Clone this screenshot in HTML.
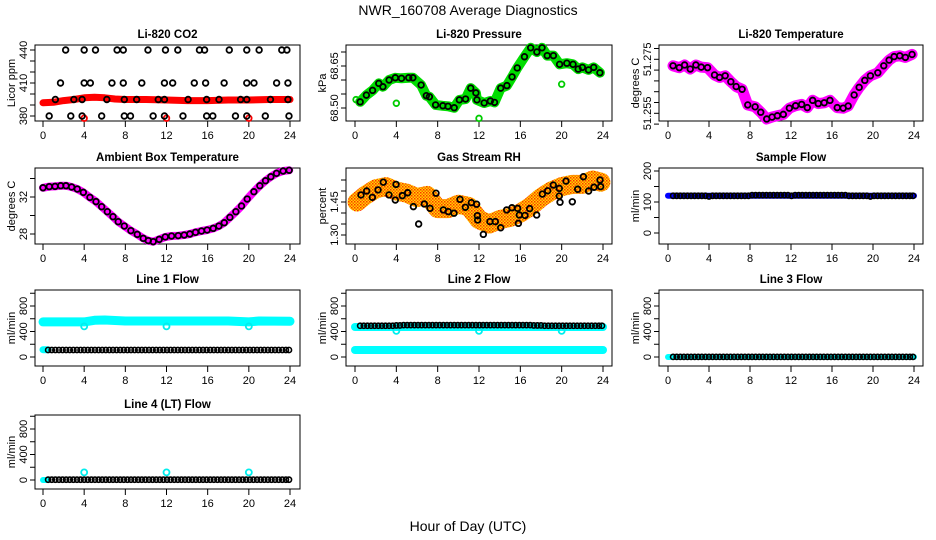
<!DOCTYPE html>
<html><head><meta charset="utf-8">
<style>
html,body{margin:0;padding:0;background:#fff;}
svg{display:block;font-family:"Liberation Sans",sans-serif;}
.tick{font-size:11px;fill:#000;}
.ttl{font-size:11.5px;font-weight:bold;fill:#000;}
</style></head>
<body>
<svg id="chart" width="936" height="540" viewBox="0 0 936 540">
<defs>
<pattern id="rhpat" width="3" height="3" patternUnits="userSpaceOnUse">
<rect width="3" height="3" fill="#ffd800"/>
<rect x="0" y="0" width="1.5" height="1.5" fill="#ff3000"/>
<rect x="1.5" y="1.5" width="1.5" height="1.5" fill="#ff6000"/>
</pattern>
</defs>
<text x="468" y="15" text-anchor="middle" font-size="14">NWR_160708  Average Diagnostics</text>
<text x="468" y="531" text-anchor="middle" font-size="14">Hour of Day (UTC)</text>
</svg>
<script>
// ---- CO2 ----
const co2Hours = [2.2,4.0,5.1,7.2,7.8,10.2,11.9,13.1,15.2,15.7,18.1,19.8,21.0,23.2,23.7,
 1.7,4.0,4.6,6.7,7.8,9.6,11.8,12.6,14.7,15.8,17.6,19.8,20.5,22.7,23.8,
 1.2,3.0,3.8,6.2,7.9,9.1,11.2,11.8,14.1,15.9,17.1,19.2,19.8,22.1,23.8,
 0.6,2.7,3.8,5.7,7.9,8.5,10.7,11.8,13.6,15.9,16.5,18.7,19.8,21.6,23.9];
const co2Vals = [440,440,440,440,440,440,440,440,440,440,440,440,440,440,440,
 410,410,410,410,410,410,410,410,410,410,410,410,410,410,410,
 395,395,395,395,395,395,395,395,395,395,395,395,395,395,395,
 380,380,380,380,380,380,380,380,380,380,380,380,380,380,380];
const co2BandHours = [0,1,2,3,4,5,6,7,8,10,12,14,16,18,20,22,24];
const co2BandVals = [392,392.5,394,395,396.5,397,396.5,395.5,395,395,394.5,394,394,394.5,394.5,395,395];
const co2OutHours = [4,12,20];
const co2OutVals = [378,378,378];
// ---- Pressure ----
const presHours = [0.5,1.1,1.7,2.3,2.7,3.3,3.9,4.5,5.2,5.6,6.4,6.9,7.2,7.8,8.5,9.0,9.6,10.1,10.7,11.2,11.7,11.8,12.5,13.1,13.5,14.1,14.7,15.2,15.7,16.4,17.0,17.6,18.1,18.6,19.2,19.8,20.5,21.1,21.6,22.0,22.6,23.1,23.7];
const presVals = [68.522,68.546,68.563,68.588,68.576,68.600,68.608,68.606,68.608,68.608,68.582,68.544,68.540,68.511,68.508,68.506,68.501,68.529,68.532,68.571,68.554,68.529,68.518,68.525,68.520,68.571,68.580,68.611,68.643,68.683,68.715,68.700,68.715,68.687,68.687,68.656,68.660,68.656,68.639,68.645,68.636,68.645,68.626];
const presOutHours = [0.1,4,12,20];
const presOutVals = [68.53,68.517,68.463,68.585];
// ---- Li-820 temperature ----
const ltHours = [0.49,1.1,1.62,2.17,2.72,3.24,3.86,4.54,5.03,5.58,6.13,6.65,7.23,7.78,8.5,9.05,9.63,10.15,10.67,11.25,11.84,12.45,13.04,13.59,14.11,14.66,15.24,15.8,16.51,17.09,17.58,18.16,18.65,19.2,19.75,20.47,21.05,21.57,22.06,22.61,23.16,23.81];
const ltVals = [51.2726,51.2719,51.2729,51.2714,51.2729,51.2721,51.2719,51.2692,51.2683,51.2689,51.2667,51.2649,51.2639,51.2581,51.2574,51.2554,51.2529,51.2536,51.2541,51.2546,51.2569,51.2578,51.2583,51.2571,51.2598,51.2586,51.2589,51.2598,51.2571,51.2569,51.2577,51.2618,51.2646,51.2672,51.2689,51.2700,51.2726,51.2747,51.2760,51.2763,51.2757,51.2768];
// ---- Ambient box temperature ----
const abHours = [0,0.61,1.17,1.72,2.23,2.78,3.33,3.92,4.56,5.15,5.7,6.25,6.8,7.31,7.9,8.54,9.16,9.74,10.23,10.71,11.29,11.88,12.49,13.14,13.72,14.27,14.82,15.4,15.95,16.54,17.09,17.61,18.16,18.74,19.29,19.84,20.49,21.07,21.62,22.14,22.69,23.33,23.92];
const abVals = [33.0,33.12,33.15,33.22,33.22,33.08,32.86,32.5,31.96,31.5,30.95,30.41,29.87,29.33,28.86,28.36,27.96,27.53,27.28,27.17,27.42,27.68,27.78,27.82,27.89,28.0,28.18,28.32,28.43,28.61,28.86,29.22,29.8,30.41,31.03,31.78,32.57,33.22,33.76,34.19,34.56,34.81,34.89];
// ---- Gas stream RH ----
const rhHours = [0.58,1.13,1.68,2.23,2.74,3.29,3.9,3.97,4.58,5.1,5.65,6.16,6.71,7.26,7.84,8.55,9.03,9.58,10.16,10.68,11.26,11.77,11.84,11.87,12.42,13.06,13.58,14.1,14.68,15.19,15.74,15.81,15.9,16.45,16.9,17.58,18.13,18.65,19.19,19.77,19.77,19.84,20.42,21.03,21.55,22.1,22.61,23.13,23.71,23.77];
const rhVals = [1.482,1.500,1.471,1.505,1.540,1.482,1.459,1.530,1.479,1.492,1.429,1.350,1.441,1.421,1.490,1.414,1.406,1.399,1.462,1.426,1.447,1.440,1.388,1.368,1.303,1.361,1.361,1.333,1.414,1.424,1.421,1.353,1.391,1.389,1.420,1.391,1.486,1.501,1.527,1.512,1.477,1.449,1.545,1.451,1.508,1.565,1.500,1.517,1.550,1.520];
const rhBandHours = [0.2,1,2,3,4,5,6,7,8,9,10,11,12,13,14,15,16,17,18,19,20,21,22,23,23.8];
const rhBandVals = [1.45,1.48,1.51,1.52,1.50,1.49,1.47,1.48,1.42,1.42,1.44,1.43,1.37,1.35,1.37,1.38,1.40,1.43,1.47,1.50,1.52,1.53,1.53,1.55,1.54];
// ---- Flows ----
const flowHours = [0.5,0.85,1.2,1.55,1.9,2.25,2.6,2.95,3.3,3.65,4,4.35,4.7,5.05,5.4,5.75,6.1,6.45,6.8,7.15,7.5,7.85,8.2,8.55,8.9,9.25,9.6,9.95,10.3,10.65,11,11.35,11.7,12.05,12.4,12.75,13.1,13.45,13.8,14.15,14.5,14.85,15.2,15.55,15.9,16.25,16.6,16.95,17.3,17.65,18,18.35,18.7,19.05,19.4,19.75,20.1,20.45,20.8,21.15,21.5,21.85,22.2,22.55,22.9,23.25,23.6,23.9];
const sampleFlowVals = [120,120,120,120,120,120,120,120,120,120,118,120,120,120,120,120,120,120,120,120,120,120,122,122,122,122,122,122,122,122,122,122,122,120,122,122,122,122,122,122,122,122,122,122,122,122,122,122,122,120,120,120,120,120,120,118,120,120,120,120,120,120,120,120,120,120,120,120];
const line1Vals = [110,110,110,110,110,110,110,110,110,110,110,110,110,110,110,110,110,110,110,110,110,110,110,110,110,110,110,110,110,110,110,110,110,110,110,110,110,110,110,110,110,110,110,110,110,110,110,110,110,110,110,110,110,110,110,110,110,110,110,110,110,110,110,110,110,110,110,110];
const line2Vals = [490,490,490,490,490,490,490,490,490,490,495,495,500,500,500,500,500,500,500,500,500,500,500,500,500,500,500,500,500,500,500,500,500,500,500,500,500,500,500,500,500,500,500,500,500,500,500,500,495,495,495,490,490,490,490,490,490,490,490,490,490,490,490,490,490,490,490,490];
const line3Vals = [2,2,2,2,2,2,2,2,2,2,2,2,2,2,2,2,2,2,2,2,2,2,2,2,2,2,2,2,2,2,2,2,2,2,2,2,2,2,2,2,2,2,2,2,2,2,2,2,2,2,2,2,2,2,2,2,2,2,2,2,2,2,2,2,2,2,2,2];
const line4Vals = [5,5,5,5,5,5,5,5,5,5,5,5,5,5,5,5,5,5,5,5,5,5,5,5,5,5,5,5,5,5,5,5,5,5,5,5,5,5,5,5,5,5,5,5,5,5,5,5,5,5,5,5,5,5,5,5,5,5,5,5,5,5,5,5,5,5,5,5];
const sampleBandHours = [0,24];
const sampleBandVals = [120,120];
const l1HiHours = [0,4,5,6,8,18,20,21,24];
const l1HiVals = [550,550,575,580,565,565,550,565,560];
const l1LoHours = [0,0.5];
const l1LoVals = [115,115];
const l2HiHours = [0,24];
const l2HiVals = [470,470];
const l2LoHours = [0,24];
const l2LoVals = [110,110];
const l3Hours = [0,24];
const l3Vals = [0,0];
const l4CyanHours = [0,0.5];
const l4CyanVals = [0,0];
const l1OutHours = [4,12,20];
const l1OutVals = [480,480,480];
const l2OutHours = [4,12,20];
const l2OutVals = [410,410,410];
const l4OutHours = [4,12,20];
const l4OutVals = [120,120,120];
const xTicks = [0,4,8,12,16,20,24];

const NS = "http://www.w3.org/2000/svg";
const svg = document.getElementById('chart');
function mk(tag, attrs, parent){
  const e = document.createElementNS(NS, tag);
  for (const k in attrs) e.setAttribute(k, attrs[k]);
  (parent||svg).appendChild(e);
  return e;
}
const cols = [{l:35,r:300,x0:43,x24:290},{l:346,r:612,x0:355,x24:603},{l:659,r:923,x0:668,x24:914}];
const rows = [{t:45,b:121},{t:168,b:244},{t:290,b:366},{t:415,b:489}];

function panel(name, title, col, row, ylab, yfun, yTicks, yLabels){
  const c = cols[col], r = rows[row];
  const g = mk('g', {});
  
  
  const xs = h => c.x0 + (c.x24 - c.x0) * h / 24;
  const box = mk('rect', {x:c.l, y:r.t, width:c.r-c.l, height:r.b-r.t, fill:'none', stroke:'#000', 'stroke-width':1}, g);
  
  
  const t = mk('text', {x:(c.l+c.r)/2, y:r.t-7, 'text-anchor':'middle', class:'ttl'}, g);
  t.textContent = title;
  
  
  const yl = mk('text', {transform:`translate(${c.l-20},${(r.t+r.b)/2}) rotate(-90)`, 'text-anchor':'middle', class:'tick'}, g);
  yl.textContent = ylab;
  
  
  const xa = mk('g', {}, g);
  
  
  xTicks.forEach(h => {
    mk('line', {x1:xs(h), x2:xs(h), y1:r.b, y2:r.b+6, stroke:'#000'}, xa);
    const tx = mk('text', {x:xs(h), y:r.b+18, 'text-anchor':'middle', class:'tick'}, xa);
    tx.textContent = h;
  });
  const ya = mk('g', {}, g);
  
  
  yTicks.forEach(v => {
    mk('line', {x1:c.l-5, x2:c.l, y1:yfun(v), y2:yfun(v), stroke:'#000'}, ya);
  });
  yLabels.forEach(([v, s]) => {
    const tx = mk('text', {transform:`translate(${c.l-8},${yfun(v)}) rotate(-90)`, 'text-anchor':'middle', class:'tick'}, ya);
    tx.textContent = s;
  });
  return {g, xs, y:yfun};
}
function band(p, hours, vals, color, w, nm){
  const pts = hours.map((h,i) => p.xs(h).toFixed(1) + ',' + p.y(vals[i]).toFixed(1)).join(' ');
  const pl = mk('polyline', {points:pts, fill:'none', stroke:color, 'stroke-width':w, 'stroke-linejoin':'round', 'stroke-linecap':'round'}, p.g);
  
  
}
function pts(p, hours, vals, color, r, sw, nm){
  const gg = mk('g', {}, p.g);
  
  
  hours.forEach((h,i) => {
    const ci = mk('circle', {cx:p.xs(h), cy:p.y(vals[i]), r:r, fill:'none', stroke:color, 'stroke-width':sw}, gg);
    
    
  });
}

// CO2
let p = panel('co2', 'Li-820 CO2', 0, 0, 'Licor ppm', v => 116 - (v-380)*1.1, [380,390,400,410,420,430,440], [[380,'380'],[410,'410'],[440,'440']]);
band(p, co2BandHours, co2BandVals, '#ff0000', 7, 'co2-red-band');
pts(p, co2OutHours, co2OutVals, '#ff0000', 2.8, 1.8, 'co2-red-outliers');
pts(p, co2Hours, co2Vals, '#000', 2.8, 1.8, 'co2-hourly-points');
// Pressure
p = panel('pressure', 'Li-820 Pressure', 1, 0, 'kPa', v => 108 - (v-68.50)*280, [68.50,68.55,68.60,68.65,68.70], [[68.50,'68.50'],[68.65,'68.65']]);
band(p, presHours, presVals, '#00dd00', 10, 'pressure-green-band');
pts(p, presOutHours, presOutVals, '#00cc00', 2.8, 1.8, 'pressure-green-outliers');
pts(p, presHours, presVals, '#000', 2.8, 1.8, 'pressure-hourly-points');
// Li-820 temp
p = panel('li820-temp', 'Li-820 Temperature', 2, 0, 'degrees C', v => 113.3 - (v-51.255)*2700, [51.251,51.255,51.259,51.263,51.267,51.271,51.275,51.279], [[51.255,'51.255'],[51.275,'51.275']]);
band(p, ltHours, ltVals, '#ff00ff', 11, 'li820-temp-magenta-band');
pts(p, ltHours, ltVals, '#000', 2.8, 1.8, 'li820-temp-hourly-points');
// Ambient
p = panel('ambient', 'Ambient Box Temperature', 0, 1, 'degrees C', v => 234 - (v-28)*9.25, [28,30,32,34], [[28,'28'],[32,'32']]);
band(p, abHours, abVals, '#ff00ff', 8, 'ambient-magenta-band');
pts(p, abHours, abVals, '#000', 2.8, 1.8, 'ambient-hourly-points');
// Gas RH
p = panel('gas-rh', 'Gas Stream RH', 1, 1, 'percent', v => 202 - (v-1.45)*220, [1.30,1.35,1.40,1.45,1.50,1.55], [[1.30,'1.30'],[1.45,'1.45']]);
band(p, rhBandHours, rhBandVals, 'url(#rhpat)', 19, 'gas-rh-orange-cloud');
pts(p, rhHours, rhVals, '#000', 2.8, 1.8, 'gas-rh-hourly-points');
// Sample flow
p = panel('sample-flow', 'Sample Flow', 2, 1, 'ml/min', v => 233 - v*0.31, [0,50,100,150,200], [[0,'0'],[100,'100'],[200,'200']]);
band(p, sampleBandHours, sampleBandVals, '#0000ff', 6, 'sample-flow-blue-band');
pts(p, flowHours, sampleFlowVals, '#000', 2.6, 1.6, 'sample-flow-hourly-points');
const flowTicks = [0,200,400,600,800,1000];
const flowLabels = [[0,'0'],[400,'400'],[800,'800']];
// Line 1
p = panel('line1-flow', 'Line 1 Flow', 0, 2, 'ml/min', v => 357 - v*0.06375, flowTicks, flowLabels);
band(p, l1HiHours, l1HiVals, '#00ffff', 9, 'line1-cyan-band');
band(p, l1LoHours, l1LoVals, '#00ffff', 7, 'line1-cyan-low');
pts(p, l1OutHours, l1OutVals, '#00eeee', 3, 1.8, 'line1-cyan-outliers');
pts(p, flowHours, line1Vals, '#000', 2.6, 1.6, 'line1-hourly-points');
// Line 2
p = panel('line2-flow', 'Line 2 Flow', 1, 2, 'ml/min', v => 357 - v*0.06375, flowTicks, flowLabels);
band(p, l2HiHours, l2HiVals, '#00ffff', 8, 'line2-cyan-band');
band(p, l2LoHours, l2LoVals, '#00ffff', 8, 'line2-cyan-low-band');
pts(p, l2OutHours, l2OutVals, '#00eeee', 3, 1.8, 'line2-cyan-outliers');
pts(p, flowHours, line2Vals, '#000', 2.6, 1.6, 'line2-hourly-points');
// Line 3
p = panel('line3-flow', 'Line 3 Flow', 2, 2, 'ml/min', v => 357 - v*0.06375, flowTicks, flowLabels);
band(p, l3Hours, l3Vals, '#00ffff', 6, 'line3-cyan-band');
pts(p, flowHours, line3Vals, '#000', 2.6, 1.6, 'line3-hourly-points');
// Line 4
p = panel('line4-flow', 'Line 4 (LT) Flow', 0, 3, 'ml/min', v => 480 - v*0.06375, flowTicks, flowLabels);
band(p, l4CyanHours, l4CyanVals, '#00ffff', 6, 'line4-cyan-band');
pts(p, l4OutHours, l4OutVals, '#00eeee', 3, 1.8, 'line4-cyan-outliers');
pts(p, flowHours, line4Vals, '#000', 2.6, 1.6, 'line4-hourly-points');
</script>
</body></html>
